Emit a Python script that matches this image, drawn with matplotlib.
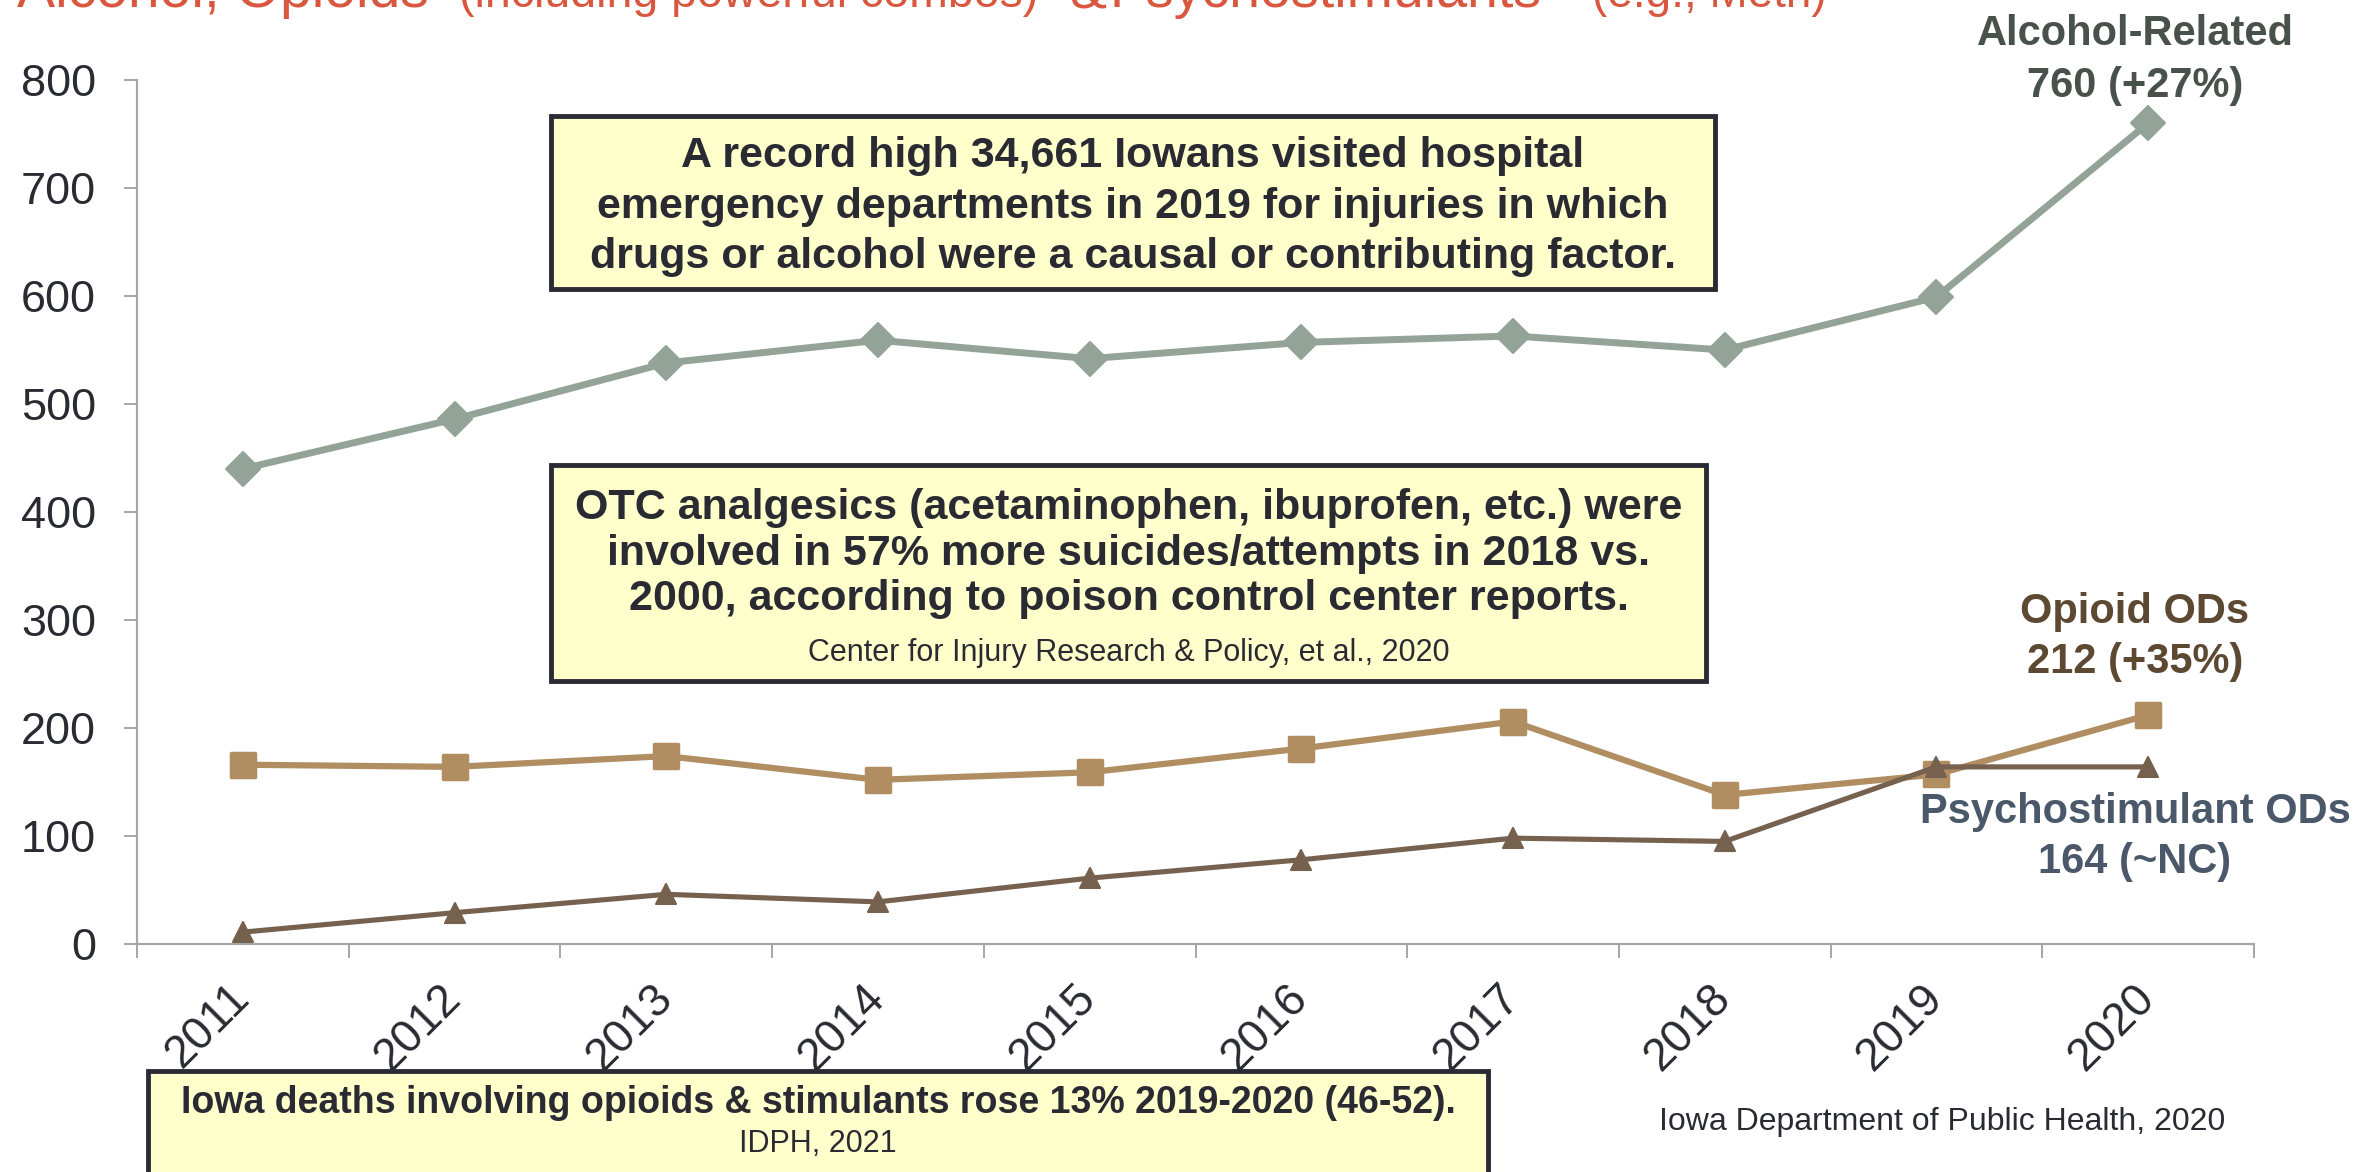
import matplotlib
matplotlib.use("Agg")
import matplotlib.pyplot as plt
from matplotlib.patches import Rectangle
from matplotlib.markers import MarkerStyle

plt.rcParams['font.family'] = ['Liberation Sans', 'DejaVu Sans']

# ---------------- data ----------------
years = ["2011", "2012", "2013", "2014", "2015", "2016", "2017", "2018", "2019", "2020"]
alcohol = [440, 486, 538, 559, 542, 557, 563, 550, 599, 760]
opioid = [166, 164, 174, 152, 159, 181, 206, 138, 157, 212]
psychostim = [11, 29, 46, 39, 61, 78, 98, 95, 164, 164]
y_ticks = [0, 100, 200, 300, 400, 500, 600, 700, 800]

series_labels = [("Alcohol-Related", "760 (+27%)"),
                 ("Opioid ODs", "212 (+35%)"),
                 ("Psychostimulant ODs", "164 (~NC)")]

title_parts = ["Alcohol, Opioids", "(including powerful combos)", "&",
               "Psychostimulants", "(e.g., Meth)"]

box1_lines = ["A record high 34,661 Iowans visited hospital",
              "emergency departments in 2019 for injuries in which",
              "drugs or alcohol were a causal or contributing factor."]
box2_lines = ["OTC analgesics (acetaminophen, ibuprofen, etc.) were",
              "involved in 57% more suicides/attempts in 2018 vs.",
              "2000, according to poison control center reports."]
box2_source = "Center for Injury Research & Policy, et al., 2020"
box3_line = "Iowa deaths involving opioids & stimulants rose 13% 2019-2020 (46-52)."
box3_source = "IDPH, 2021"
source_note = "Iowa Department of Public Health, 2020"

# ---------------- layout helpers ----------------
W, H = 2362, 1172
fig = plt.figure(figsize=(W / 100, H / 100), dpi=100)


def fx(px):
    return px / W


def fy(py):
    return 1 - py / H


TXT = "#2a2a33"
C_ALC = "#93a397"
C_OPI = "#b08e62"
C_PSY = "#76614f"
AX_GRAY = "#a6a6a6"

ax = fig.add_axes([fx(137), fy(944), (2254 - 137) / W, (944 - 80) / H])
x = list(range(len(years)))

ax.plot(x, alcohol, color=C_ALC, lw=5, marker=MarkerStyle('D', joinstyle='round'),
        ms=17, mfc=C_ALC, mec=C_ALC, mew=1.5, zorder=3, solid_joinstyle='round')
ax.plot(x, opioid, color=C_OPI, lw=4.5, marker=MarkerStyle('s', joinstyle='round'),
        ms=17.5, mfc=C_OPI, mec=C_OPI, mew=2.5, zorder=4, solid_joinstyle='round')
ax.plot(x, psychostim, color=C_PSY, lw=3.7, marker=MarkerStyle('^', joinstyle='round'),
        ms=14, mfc=C_PSY, mec=C_PSY, mew=1.5, zorder=5, solid_joinstyle='round')

ax.set_xlim(-0.5, len(years) - 0.5)
ax.set_ylim(0, 800)
ax.set_yticks(y_ticks)
ax.set_yticklabels([str(v) for v in y_ticks])
ax.set_xticks(x)
ax.set_xticklabels(years)
ax.set_xticks([i - 0.5 for i in range(len(years) + 1)], minor=True)

for s in ["top", "right"]:
    ax.spines[s].set_visible(False)
for s in ["left", "bottom"]:
    ax.spines[s].set_color(AX_GRAY)
    ax.spines[s].set_linewidth(1.6)

ax.tick_params(axis='y', which='major', length=9.5, width=1.4, color=AX_GRAY,
               labelsize=32.5, labelcolor=TXT, pad=20)
ax.tick_params(axis='x', which='major', length=0, labelsize=33, labelcolor=TXT, pad=34)
ax.tick_params(axis='x', which='minor', length=10, width=1.4, color=AX_GRAY)
plt.setp(ax.get_xticklabels(), rotation=45, ha='right', va='center',
         rotation_mode='anchor')

# ---------------- series end labels ----------------
lab_cols = ["#48524b", "#5d4932", "#4a5869"]
lab_base = [(45, 97), (623, 673), (823, 873)]
for (l1, l2), c, (b1, b2) in zip(series_labels, lab_cols, lab_base):
    fig.text(fx(2135), fy(b1), l1, ha='center', va='baseline', fontsize=30,
             fontweight='bold', color=c)
    fig.text(fx(2135), fy(b2), l2, ha='center', va='baseline', fontsize=30,
             fontweight='bold', color=c)

# ---------------- title (cut off at the top) ----------------
title_x = [17, 459, 1070, 1110, 1592]
title_fs = [41, 33.5, 40, 40, 33]
for t, px, fs in zip(title_parts, title_x, title_fs):
    fig.text(fx(px), fy(7), t, ha='left', va='baseline', fontsize=fs, color="#d9573e")

# ---------------- callout boxes ----------------
BOX_FILL = "#ffffcc"
BOX_EDGE = "#2b2b35"


def box(x0, y0, x1, y1):
    r = Rectangle((fx(x0), fy(y1)), (x1 - x0) / W, (y1 - y0) / H,
                  transform=fig.transFigure, facecolor=BOX_FILL, edgecolor=BOX_EDGE,
                  lw=3.5, zorder=6)
    fig.add_artist(r)


box(551, 116, 1715, 289)
for t, b in zip(box1_lines, [167, 218, 268]):
    fig.text(fx(1133), fy(b), t, ha='center', va='baseline', fontsize=31,
             fontweight='bold', color=TXT, zorder=7)

box(551, 465, 1706, 681)
for t, b in zip(box2_lines, [519, 565, 610]):
    fig.text(fx(1129), fy(b), t, ha='center', va='baseline', fontsize=31,
             fontweight='bold', color=TXT, zorder=7)
fig.text(fx(1129), fy(661), box2_source, ha='center', va='baseline', fontsize=22,
         color=TXT, zorder=7)

box(148, 1071, 1488, 1215)
fig.text(fx(818), fy(1113), box3_line, ha='center', va='baseline', fontsize=27,
         fontweight='bold', color=TXT, zorder=7)
fig.text(fx(818), fy(1152), box3_source, ha='center', va='baseline', fontsize=22,
         color=TXT, zorder=7)

fig.text(fx(1942), fy(1130), source_note, ha='center', va='baseline', fontsize=23,
         color=TXT)

fig.savefig("out.png", dpi=100, facecolor="white")
